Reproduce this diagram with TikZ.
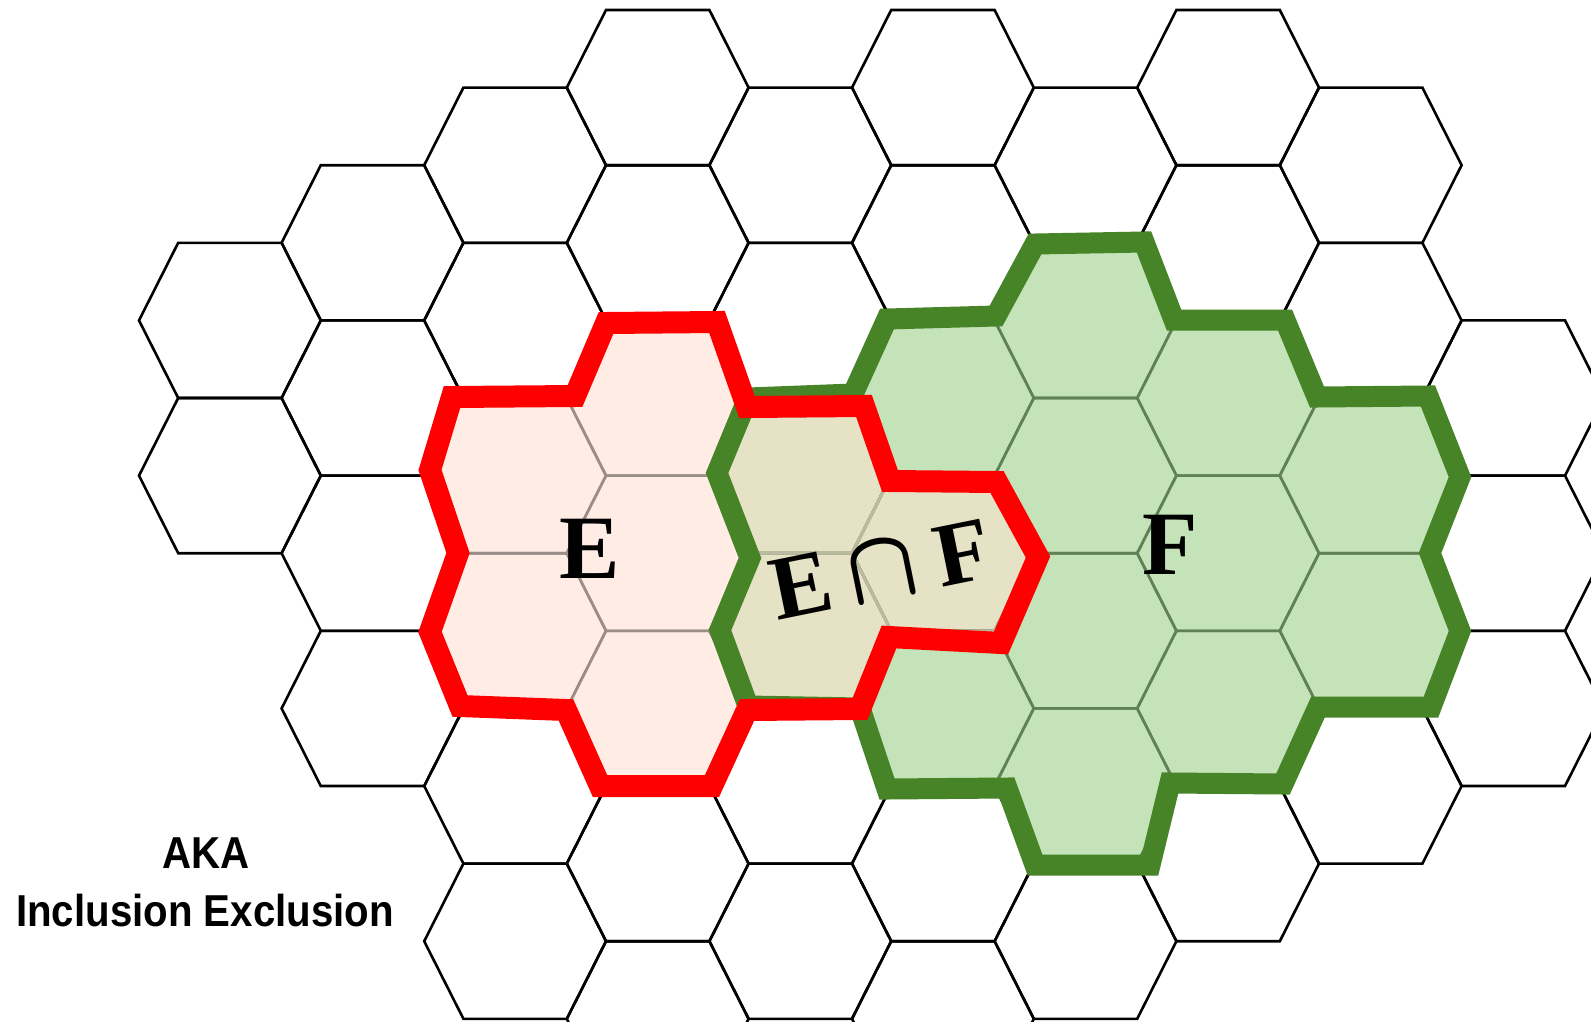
\documentclass[tikz,border=0pt]{standalone}
\usepackage{fontspec}
\newfontfamily\lserif{Liberation Serif}
\newfontfamily\lsans[FakeStretch=0.9]{Liberation Sans}
\definecolor{efill}{RGB}{254,236,229}
\definecolor{ffill}{RGB}{196,227,184}
\definecolor{ifill}{RGB}{229,226,197}
\definecolor{eline}{RGB}{155,141,136}
\definecolor{fline}{RGB}{96,128,86}
\definecolor{iline}{RGB}{186,187,160}
\definecolor{redline}{RGB}{255,0,0}
\definecolor{greenline}{RGB}{71,131,39}
\tikzset{
  hexedge/.style={line width=2.6pt, line join=miter},
  redoutline/.style={draw=redline, line width=22pt, line join=miter},
  greenoutline/.style={draw=greenline, line width=21pt, line join=miter},
  bigserif/.style={inner sep=0pt, anchor=base, font=\lserif\bfseries\fontsize{90.6}{92}\selectfont},
  sanslabel/.style={inner sep=0pt, anchor=base, font=\lsans\bfseries\fontsize{44.7}{46}\selectfont},
}
\def\hexlist{0/3,0/5,1/2,1/4,1/6,1/8,2/1,2/3,2/5,2/7,2/9,2/11,3/0,3/2,3/4,3/6,3/8,3/10,3/12,4/1,4/3,4/5,4/7,4/9,4/11,5/0,5/2,5/4,5/6,5/8,5/10,5/12,6/1,6/3,6/5,6/7,6/9,6/11,7/0,7/2,7/4,7/6,7/8,7/10,8/1,8/3,8/5,8/7,8/9,9/4,9/6,9/8}
\newcommand{\hexgrid}[1]{%
  \foreach \hc/\hr in \hexlist {%
    \pgfmathsetmacro\hx{229.9+142.6*\hc}%
    \pgfmathsetmacro\hy{10+77.6*(\hr+1)}%
    \draw[hexedge,#1,shift={(\hx,\hy)}] (-90.9,0) -- (-51.7,-77.6) -- (51.7,-77.6) -- (90.9,0) -- (51.7,77.6) -- (-51.7,77.6) -- cycle;
  }}
\def\Epath{(430,470) -- (458,553) -- (430,632) -- (460,706) -- (566,710) -- (600,786) -- (712,786) -- (747,710) -- (860,709) -- (889,637) -- (1001,643) -- (1038,557) -- (997,482) -- (890,481) -- (864,406) -- (747,407) -- (717,322) -- (606,323) -- (575,396) -- (452,397) -- cycle}
\def\Fpath{(748,398) -- (853,394) -- (887,319) -- (996,316) -- (1035,244) -- (1144,242) -- (1174,320) -- (1285,320) -- (1317,397) -- (1428,396) -- (1460,477) -- (1430,553) -- (1460,631) -- (1431,707) -- (1318,707) -- (1283,784) -- (1170,783) -- (1150,865) -- (1035,865) -- (1007,788) -- (887,789) -- (860,708) -- (748,706) -- (720,630) -- (750,558) -- (717,473) -- cycle}
\begin{document}
\begin{tikzpicture}[x=1pt,y=-1pt]
  \useasboundingbox (0,0) rectangle (1591,1021);
  \fill[white] (0,0) rectangle (1591,1021);
  \clip (0,0) rectangle (1591,1021);
  % plain grid
  \hexgrid{draw=black}
  % region fills
  \fill[efill] \Epath;
  \fill[ffill] \Fpath;
  \begin{scope}
    \clip \Epath;
    \fill[ifill] \Fpath;
  \end{scope}
  % tinted inner grid lines
  \begin{scope}
    \clip \Epath;
    \hexgrid{draw=eline}
  \end{scope}
  \begin{scope}
    \clip \Fpath;
    \hexgrid{draw=fline}
  \end{scope}
  \begin{scope}
    \clip \Epath;
    \clip \Fpath;
    \hexgrid{draw=iline}
  \end{scope}
  % outlines
  \draw[greenoutline] \Fpath;
  \draw[redoutline] \Epath;
  % labels
  \node[bigserif] (labelE) at (590,578) {E};
  \node[bigserif] (labelF) at (1170,574) {F};
  \node[bigserif, rotate=11.5] (labelEF) at (887,598.5) {E\hspace{17pt}\resizebox{70pt}{56pt}{\boldmath$\cap$}\hspace{20pt}F};
  \node[sanslabel] (aka) at (206,868.5) {AKA};
  \node[sanslabel] (incl) at (205,926) {Inclusion Exclusion};
\end{tikzpicture}
\end{document}
